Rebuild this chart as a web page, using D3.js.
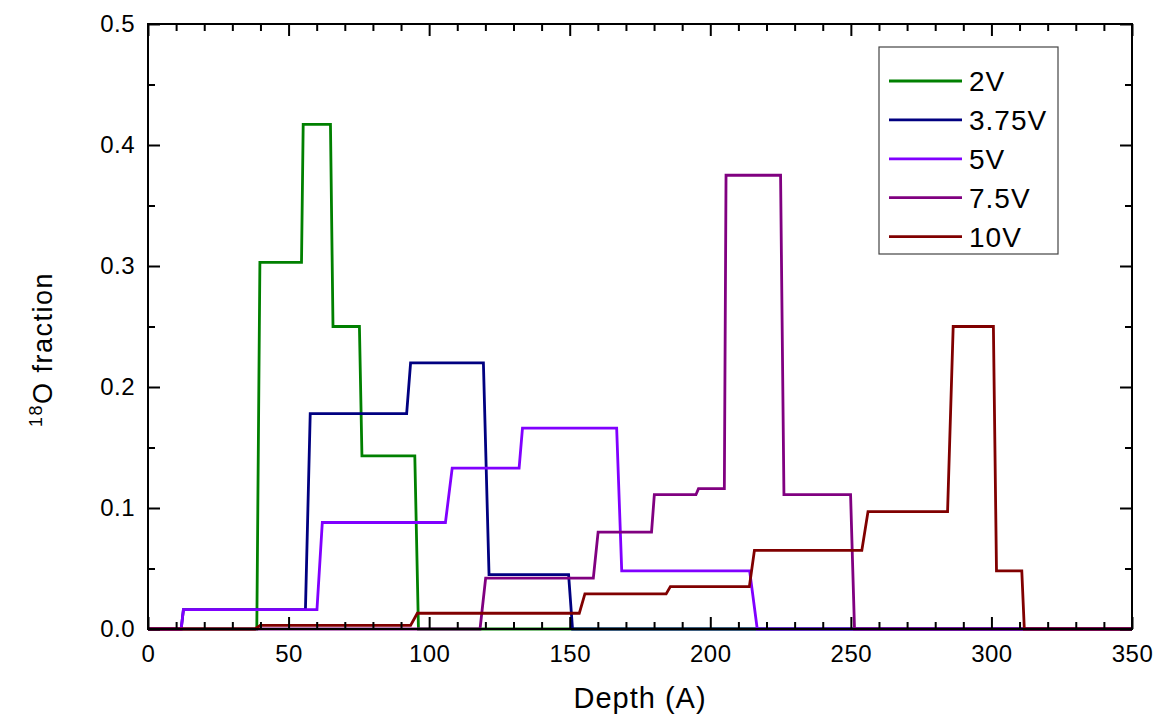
<!DOCTYPE html>
<html>
<head>
<meta charset="utf-8">
<script src="https://cdn.jsdelivr.net/npm/d3@7"></script>
<style>
  html, body { margin: 0; padding: 0; background: #fff; }
  svg { display: block; font-family: "Liberation Sans", Arial, sans-serif; }
</style>
</head>
<body>
<svg id="chart" width="1156" height="721"></svg>
<script>
// Depth profiles of the 18O fraction for several anodisation voltages
const seriesNames = ["2V", "3.75V", "5V", "7.5V", "10V"];
const seriesColors = ["#008000", "#000080", "#8000ff", "#800080", "#800000"];

const depth2V = [0, 38.7, 39.8, 54.6, 55.2, 64.9, 65.8, 75.2, 76.1, 94.9, 96.2, 350];
const frac2V  = [0, 0, 0.303, 0.303, 0.417, 0.417, 0.25, 0.25, 0.143, 0.143, 0, 0];

const depth375V = [0, 11.8, 12.6, 56.0, 57.7, 92.0, 93.4, 119.3, 121.3, 149.6, 151.0, 350];
const frac375V  = [0, 0, 0.016, 0.016, 0.178, 0.178, 0.22, 0.22, 0.045, 0.045, 0, 0];

const depth5V = [0, 11.8, 12.6, 60.1, 62.0, 105.8, 108.2, 132.0, 133.2, 166.7, 168.5, 214.0, 216.7, 350];
const frac5V  = [0, 0, 0.016, 0.016, 0.088, 0.088, 0.133, 0.133, 0.166, 0.166, 0.048, 0.048, 0, 0];

const depth75V = [0, 118.1, 120.1, 158.4, 160.1, 179.1, 180.1, 194.9, 195.8, 205.0, 205.6, 225.0, 226.2, 249.9, 251.3, 350];
const frac75V  = [0, 0, 0.042, 0.042, 0.080, 0.080, 0.111, 0.111, 0.116, 0.116, 0.375, 0.375, 0.111, 0.111, 0, 0];

const depth10V = [0, 38.1, 39.9, 93.4, 95.8, 153.4, 155.4, 184.3, 185.8, 213.9, 215.7, 253.9, 256.1, 284.4, 286.4, 300.7, 301.8, 310.8, 311.7, 350];
const frac10V  = [0, 0, 0.003, 0.003, 0.013, 0.013, 0.029, 0.029, 0.035, 0.035, 0.065, 0.065, 0.097, 0.097, 0.25, 0.25, 0.048, 0.048, 0, 0];

const xTicks = [0, 50, 100, 150, 200, 250, 300, 350];
const yTicks = [0.0, 0.1, 0.2, 0.3, 0.4, 0.5];
const xMinorTicks = d3.range(0, 351, 10).filter(v => v % 50 !== 0);
const yMinorTicks = [0.05, 0.15, 0.25, 0.35, 0.45];

const depthSets = [depth2V, depth375V, depth5V, depth75V, depth10V];
const fracSets = [frac2V, frac375V, frac5V, frac75V, frac10V];

const width = 1156, height = 721;
const margin = { top: 24, right: 24, bottom: 92, left: 148 };
const innerW = width - margin.left - margin.right;
const innerH = height - margin.top - margin.bottom;

const svg = d3.select("#chart");
const g = svg.append("g").attr("transform", `translate(${margin.left},${margin.top})`);

const x = d3.scaleLinear().domain([0, 350]).range([0, innerW]);
const y = d3.scaleLinear().domain([0, 0.5]).range([innerH, 0]);

const series = seriesNames.map((name, i) => ({
  name,
  color: seriesColors[i],
  points: depthSets[i].map((d, j) => [d, fracSets[i][j]])
}));

// data lines
const line = d3.line().x(d => x(d[0])).y(d => y(d[1]));
g.append("g").attr("class", "lines")
  .selectAll("path")
  .data(series)
  .join("path")
  .attr("d", d => line(d.points))
  .attr("fill", "none")
  .attr("stroke", d => d.color)
  .attr("stroke-width", 2.8)
  .attr("stroke-linejoin", "miter");

// axes: ticks point inwards on all four sides
const majorLen = 12, minorLen = 7;
function styleAxis(sel) {
  sel.select(".domain").remove();
  sel.selectAll(".tick line").attr("stroke", "#000").attr("stroke-width", 2);
  sel.selectAll(".tick text")
    .attr("fill", "#000")
    .attr("font-size", 24)
    .attr("letter-spacing", 0.5);
}

const fmtY = d3.format(".1f");

g.append("g").attr("transform", `translate(0,${innerH})`)
  .call(d3.axisBottom(x).tickValues(xTicks).tickSize(-majorLen).tickPadding(16).tickFormat(d3.format("d")))
  .call(styleAxis);
g.append("g").attr("transform", `translate(0,${innerH})`)
  .call(d3.axisBottom(x).tickValues(xMinorTicks).tickSize(-minorLen).tickFormat(""))
  .call(styleAxis);

g.append("g")
  .call(d3.axisTop(x).tickValues(xTicks).tickSize(-majorLen).tickFormat(""))
  .call(styleAxis);
g.append("g")
  .call(d3.axisTop(x).tickValues(xMinorTicks).tickSize(-minorLen).tickFormat(""))
  .call(styleAxis);

g.append("g")
  .call(d3.axisLeft(y).tickValues(yTicks).tickSize(-majorLen).tickPadding(13).tickFormat(fmtY))
  .call(styleAxis);
g.append("g")
  .call(d3.axisLeft(y).tickValues(yMinorTicks).tickSize(-minorLen).tickFormat(""))
  .call(styleAxis);

g.append("g").attr("transform", `translate(${innerW},0)`)
  .call(d3.axisRight(y).tickValues(yTicks).tickSize(-majorLen).tickFormat(""))
  .call(styleAxis);
g.append("g").attr("transform", `translate(${innerW},0)`)
  .call(d3.axisRight(y).tickValues(yMinorTicks).tickSize(-minorLen).tickFormat(""))
  .call(styleAxis);

// frame
g.append("rect")
  .attr("x", 0).attr("y", 0).attr("width", innerW).attr("height", innerH)
  .attr("fill", "none").attr("stroke", "#000").attr("stroke-width", 2);

// axis titles
svg.append("text")
  .attr("x", margin.left + innerW / 2)
  .attr("y", 708)
  .attr("text-anchor", "middle")
  .attr("font-size", 29)
  .attr("letter-spacing", 1)
  .attr("fill", "#000")
  .text("Depth (A)");

const yTitle = svg.append("text")
  .attr("transform", "translate(52,427) rotate(-90)")
  .attr("text-anchor", "start")
  .attr("font-size", 27)
  .attr("letter-spacing", 1.5)
  .attr("fill", "#000");
yTitle.append("tspan").attr("font-size", 18).attr("dy", -10).text("18");
yTitle.append("tspan").attr("dy", 10).text("O fraction");

// legend
const legend = svg.append("g").attr("class", "legend");
legend.append("rect")
  .attr("x", 879).attr("y", 47).attr("width", 179).attr("height", 207)
  .attr("fill", "#fff").attr("stroke", "#444").attr("stroke-width", 1.2);
const items = legend.selectAll("g.item")
  .data(series)
  .join("g")
  .attr("class", "item")
  .attr("transform", (d, i) => `translate(0,${81 + i * 38.9})`);
items.append("line")
  .attr("x1", 889).attr("x2", 962)
  .attr("y1", 0).attr("y2", 0)
  .attr("stroke", d => d.color)
  .attr("stroke-width", 2.8);
items.append("text")
  .attr("x", 969)
  .attr("dy", "0.36em")
  .attr("font-size", 28)
  .attr("letter-spacing", 1)
  .attr("fill", "#000")
  .text(d => d.name);
</script>
</body>
</html>
